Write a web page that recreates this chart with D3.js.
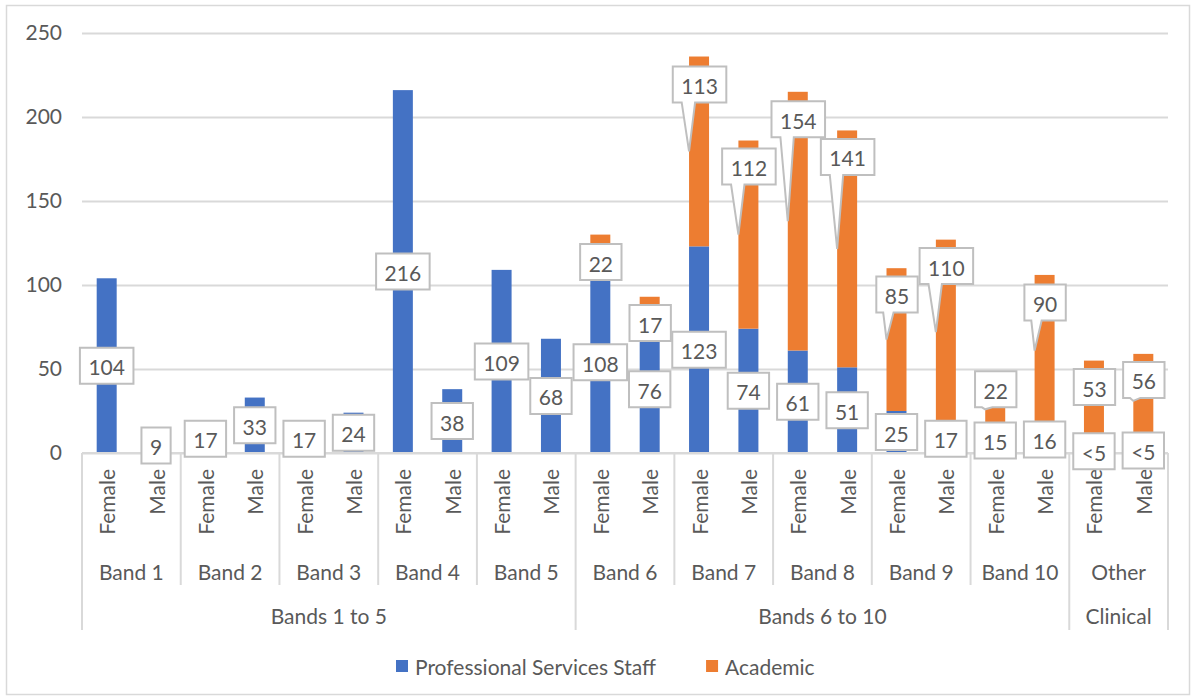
<!DOCTYPE html>
<html>
<head>
<meta charset="utf-8">
<script src="https://cdn.jsdelivr.net/npm/d3@7"></script>
<style>
  html, body { margin: 0; padding: 0; background: #ffffff; }
  svg text { font-family: Lato, "Open Sans", sans-serif; fill: #595959; }
</style>
</head>
<body>
<svg id="chart" width="1195" height="699"></svg>
<script>
// Staff headcount by grade band and gender
const bands = ["Band 1", "Band 2", "Band 3", "Band 4", "Band 5",
               "Band 6", "Band 7", "Band 8", "Band 9", "Band 10", "Other"];
const genders = ["Female", "Male"];
const groupLabels = ["Bands 1 to 5", "Bands 6 to 10", "Clinical"];
const groupSizes = [5, 5, 1];
const seriesNames = ["Professional Services Staff", "Academic"];

// one value per band/gender pair (Female, Male, Female, Male, ...)
const professionalServices = [104, 9, 17, 33, 17, 24, 216, 38, 109, 68,
                              108, 76, 123, 74, 61, 51, 25, 17, 15, 16, 2, 3];
const academic = [0, 0, 0, 0, 0, 0, 0, 0, 0, 0,
                  22, 17, 113, 112, 154, 141, 85, 110, 22, 90, 53, 56];
// suppressed small counts are shown as "<5"
const professionalLabels = ["104", "9", "17", "33", "17", "24", "216", "38", "109", "68",
                            "108", "76", "123", "74", "61", "51", "25", "17", "15", "16", "<5", "<5"];
const academicLabels = [null, null, null, null, null, null, null, null, null, null,
                        "22", "17", "113", "112", "154", "141", "85", "110", "22", "90", "53", "56"];
const yTicks = [0, 50, 100, 150, 200, 250];

// vertical shift (px) of each Academic callout box from its segment centre
const academicCalloutShift = [0, 0, 0, 0, 0, 0, 0, 0, 0, 0,
                              9, 12, -67, -68, -102, -92, -45, -66, -20, -48, -18, -21];

const colors = { ps: "#4472C4", ac: "#ED7D31", grid: "#d9d9d9", box: "#bfbfbf" };
const FONT = 21;

const svg = d3.select("#chart");
const plot = { left: 82, right: 1168, top: 33, bottom: 453 };

// outer chart frame
svg.append("rect").attr("x", 6.5).attr("y", 5.5).attr("width", 1183).attr("height", 689)
  .attr("fill", "#fff").attr("stroke", colors.grid).attr("stroke-width", 1.5);

const cats = d3.range(professionalServices.length);
const x = d3.scaleBand().domain(cats).range([plot.left, plot.right]).padding(0);
const y = d3.scaleLinear().domain([0, 250]).range([plot.bottom, plot.top]);
const barW = x.bandwidth() * 0.405;
const barX = i => x(i) + (x.bandwidth() - barW) / 2;
const cx = i => x(i) + x.bandwidth() / 2;

// gridlines and value axis
const yAxis = d3.axisLeft(y).tickValues(yTicks).tickSize(-(plot.right - plot.left)).tickPadding(20);
const gY = svg.append("g").attr("transform", `translate(${plot.left},0)`).call(yAxis);
gY.select(".domain").remove();
gY.selectAll(".tick line").attr("stroke", colors.grid).attr("stroke-width", 2);
gY.selectAll(".tick text").attr("font-size", FONT).attr("font-family", "Lato").attr("fill", "#595959")
  .attr("x", -20);

// stacked bars
const stackData = cats.map(i => ({ i, ps: professionalServices[i], ac: academic[i] }));
const stacked = d3.stack().keys(["ps", "ac"])(stackData);
const gBars = svg.append("g");
stacked.forEach(layer => {
  gBars.selectAll(null).data(layer).enter().append("rect")
    .attr("x", d => barX(d.data.i))
    .attr("width", barW)
    .attr("y", d => y(d[1]))
    .attr("height", d => y(d[0]) - y(d[1]))
    .attr("fill", layer.key === "ps" ? colors.ps : colors.ac);
});

// category axis line
svg.append("line").attr("x1", plot.left).attr("x2", plot.right)
  .attr("y1", plot.bottom).attr("y2", plot.bottom)
  .attr("stroke", colors.grid).attr("stroke-width", 2);

// multi-level category axis
const gAxis = svg.append("g");
cats.forEach(i => {
  gAxis.append("text")
    .attr("transform", `translate(${cx(i)},469) rotate(-90)`)
    .attr("text-anchor", "end").attr("dominant-baseline", "central")
    .attr("font-size", FONT).text(genders[i % 2]);
});
const bandW = x.step() * 2;
bands.forEach((b, k) => {
  gAxis.append("text").attr("x", plot.left + bandW * (k + 0.5)).attr("y", 571)
    .attr("text-anchor", "middle").attr("dominant-baseline", "central")
    .attr("font-size", FONT).text(b);
});
let start = 0;
const groupEdges = [0];
groupLabels.forEach((g, k) => {
  const end = start + groupSizes[k];
  gAxis.append("text").attr("x", plot.left + bandW * (start + end) / 2).attr("y", 615)
    .attr("text-anchor", "middle").attr("dominant-baseline", "central")
    .attr("font-size", FONT).text(g);
  start = end;
  groupEdges.push(end);
});
d3.range(bands.length + 1).forEach(k => {
  const isGroup = groupEdges.includes(k);
  const xx = plot.left + bandW * k;
  gAxis.append("line").attr("x1", xx).attr("x2", xx)
    .attr("y1", plot.bottom).attr("y2", isGroup ? 630 : 585)
    .attr("stroke", colors.grid).attr("stroke-width", 2);
});

// data label boxes, with a wedge pointer when the anchor lies below the box
const gLabels = svg.append("g");
function labelBox(text, bx, by, tipX, tipY) {
  const g = gLabels.append("g");
  const path = g.append("path");
  const t = g.append("text").attr("x", bx).attr("y", by + 1)
    .attr("text-anchor", "middle").attr("dominant-baseline", "central")
    .attr("font-size", FONT).text(text);
  const w = t.node().getComputedTextLength() + 17;
  const h = 36;
  const l = bx - w / 2, r = bx + w / 2, top = by - h / 2, b = by + h / 2;
  let d;
  if (tipY != null && tipY > b + 0.5) {
    const dx = tipX - bx;
    const x1 = l + w * (dx > 0 ? 7 : 2) / 12;
    const x2 = l + w * (dx > 0 ? 10 : 5) / 12;
    d = `M${l},${top}H${r}V${b}H${x2}L${tipX},${tipY}L${x1},${b}H${l}Z`;
  } else {
    d = `M${l},${top}H${r}V${b}H${l}Z`;
  }
  path.attr("d", d).attr("fill", "#fff").attr("stroke", colors.box).attr("stroke-width", 2)
    .attr("stroke-linejoin", "miter");
}

const psLayer = stacked[0], acLayer = stacked[1];
cats.forEach(i => {
  const s = psLayer[i];
  labelBox(professionalLabels[i], cx(i), (y(s[0]) + y(s[1])) / 2, null, null);
});
cats.forEach(i => {
  if (academicLabels[i] == null) return;
  const s = acLayer[i];
  const segY = (y(s[0]) + y(s[1])) / 2;
  labelBox(academicLabels[i], cx(i) + 0.5, segY + academicCalloutShift[i], barX(i), segY);
});

// legend
const gLeg = svg.append("g");
const legendColors = [colors.ps, colors.ac];
let lx = 396;
seriesNames.forEach((name, k) => {
  gLeg.append("rect").attr("x", lx).attr("y", 660).attr("width", 12).attr("height", 12)
    .attr("fill", legendColors[k]);
  const t = gLeg.append("text").attr("x", lx + 19).attr("y", 666)
    .attr("dominant-baseline", "central").attr("font-size", FONT).text(name);
  lx += 19 + t.node().getComputedTextLength() + 50;
});
</script>
</body>
</html>
